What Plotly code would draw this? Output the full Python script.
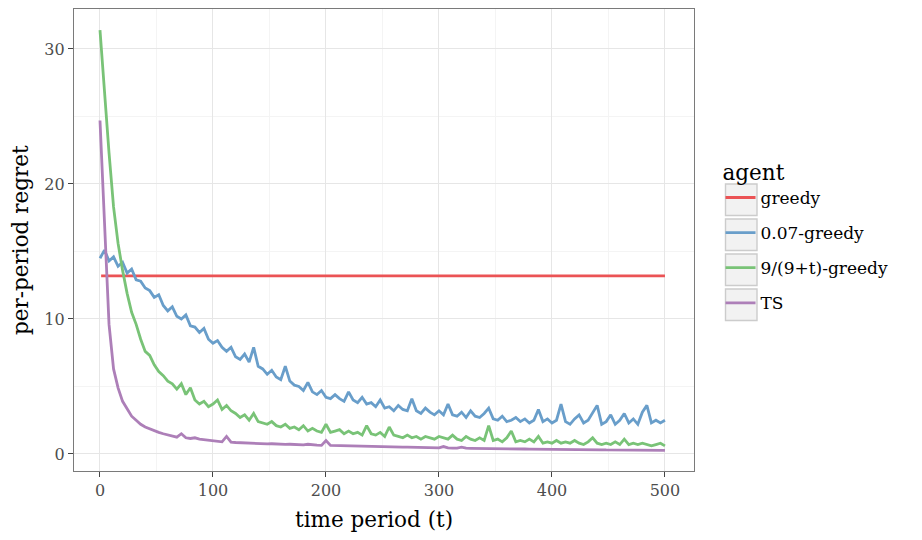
import plotly.graph_objects as go

# ---------------- data ----------------
t_steps = list(range(0, 501, 4))

greedy_t = [1, 500]
greedy = [13.2, 13.2]

eps_greedy = [
    14.5, 15.1, 14.3, 14.6, 13.9, 14.2, 13.4, 13.7, 12.9, 12.8,
    12.3, 12.1, 11.6, 11.8, 11.0, 10.6, 10.9, 10.2, 10.0, 10.3,
    9.5, 9.4, 9.0, 9.3, 8.5, 8.2, 8.4, 7.9, 7.6, 7.9,
    7.2, 7.0, 7.4, 6.8, 7.9, 6.5, 6.3, 5.9, 6.2, 5.7,
    5.5, 6.5, 5.4, 5.1, 5.0, 4.7, 5.3, 4.6, 4.4, 4.7,
    4.2, 4.1, 4.4, 4.1, 3.9, 4.6, 4.0, 3.8, 4.2, 3.7,
    3.8, 3.5, 4.0, 3.4, 3.5, 3.2, 3.6, 3.3, 3.2, 4.1,
    3.2, 3.0, 3.4, 3.1, 2.9, 3.2, 2.9, 3.7, 2.9, 2.8,
    3.1, 2.7, 3.2, 2.8, 2.7, 3.0, 3.4, 2.6, 2.5, 2.8,
    2.4, 2.5, 2.7, 2.4, 2.6, 2.3, 2.5, 3.3, 2.4, 2.6,
    2.3, 2.5, 3.7, 2.4, 2.2, 2.6, 2.9, 2.3, 2.5, 3.1,
    3.6, 2.2, 2.4, 2.9, 2.2, 2.5, 3.0, 2.3, 2.6, 2.2,
    3.1, 3.6, 2.3, 2.5, 2.3, 2.5,
]

anneal_greedy = [
    31.4, 26.5, 22.3, 18.3, 15.6, 13.6, 11.9, 10.5, 9.6, 8.5,
    7.6, 7.3, 6.6, 6.1, 5.8, 5.4, 5.2, 4.8, 5.2, 4.4,
    4.9, 4.0, 3.7, 3.9, 3.5, 3.7, 4.0, 3.3, 3.6, 3.2,
    3.0, 2.7, 2.9, 2.5, 3.0, 2.4, 2.3, 2.2, 2.4, 2.1,
    2.0, 2.2, 1.9, 2.0, 1.8, 2.1, 1.7, 1.9, 1.7, 1.6,
    2.2, 1.6, 1.7, 1.8, 1.5, 1.7, 1.5, 1.6, 1.4, 2.1,
    1.5, 1.4, 1.6, 1.3, 2.0, 1.4, 1.3, 1.2, 1.4, 1.2,
    1.3, 1.1, 1.3, 1.2, 1.1, 1.3, 1.2, 1.1, 1.4, 1.1,
    1.0, 1.3, 1.1, 1.0, 1.2, 1.0, 2.1, 1.0, 1.1, 0.9,
    1.2, 1.7, 0.9, 1.0, 0.9, 1.1, 0.9, 1.3, 0.8, 0.9,
    0.8, 1.0, 0.8, 0.9, 0.8, 1.0, 0.8, 0.7, 0.9, 1.2,
    0.8, 0.7, 0.8, 0.7, 0.9, 0.7, 1.1, 0.7, 0.8, 0.7,
    0.8, 0.7, 0.6, 0.7, 0.8, 0.6,
]

ts = [
    24.7, 16.8, 9.6, 6.3, 4.9, 3.9, 3.3, 2.8, 2.5, 2.2,
    2.0, 1.85, 1.7, 1.6, 1.5, 1.4, 1.3, 1.25, 1.5, 1.2,
    1.15, 1.2, 1.1, 1.05, 1.0, 0.97, 0.93, 0.9, 1.3, 0.88,
    0.85, 0.83, 0.82, 0.8, 0.82, 0.78, 0.76, 0.75, 0.76, 0.73,
    0.72, 0.71, 0.72, 0.7, 0.69, 0.68, 0.72, 0.66, 0.65, 0.64,
    1.0, 0.63, 0.62, 0.62, 0.61, 0.6, 0.59, 0.58, 0.58, 0.57,
    0.56, 0.55, 0.55, 0.54, 0.53, 0.53, 0.52, 0.51, 0.51, 0.5,
    0.49, 0.48, 0.49, 0.47, 0.46, 0.46, 0.55, 0.45, 0.44, 0.44,
    0.5, 0.43, 0.42, 0.42, 0.41, 0.41, 0.4, 0.4, 0.39, 0.39,
    0.38, 0.38, 0.37, 0.37, 0.37, 0.36, 0.36, 0.35, 0.35, 0.35,
    0.34, 0.34, 0.34, 0.33, 0.33, 0.33, 0.32, 0.32, 0.32, 0.31,
    0.31, 0.31, 0.3, 0.3, 0.3, 0.3, 0.29, 0.29, 0.29, 0.29,
    0.28, 0.28, 0.28, 0.28, 0.27, 0.27,
]

agents = ["greedy", "0.07-greedy", "9/(9+t)-greedy", "TS"]
colors = ["#eb5355", "#699eca", "#79c377", "#ad7fb8"]

x_ticks = [0, 100, 200, 300, 400, 500]
y_ticks = [0, 10, 20, 30]

# ---------------- figure ----------------
FONT = "DejaVu Serif"
OFF = 8  # page body margin
W, H = 922 - OFF, 540 - OFF
# target panel in window pixels: x 74..694, y 9..471
ML = 74 - OFF
MT = 9 - OFF
MR = 922 - 694
MB = 540 - 471
PW, PH = W - ML - MR, H - MT - MB

series = [(greedy_t, greedy), (t_steps, eps_greedy), (t_steps, anneal_greedy), (t_steps, ts)]

fig = go.Figure()
for name, col, (xs, ys) in zip(agents, colors, series):
    fig.add_trace(go.Scatter(
        x=xs, y=ys, mode="lines", name=name, legendgroup=name,
        line=dict(color=col, width=2.8),
    ))

def px_x(p):
    # window pixel -> paper coordinate
    return (p - OFF - ML) / PW

def px_y(p):
    return (H - MB - (p - OFF)) / PH

# legend key boxes (ggplot style)
shapes = []
for k in range(4):
    top = 184 + 35 * k
    shapes.append(dict(
        type="rect", xref="paper", yref="paper",
        x0=px_x(725.5), x1=px_x(757), y0=px_y(top + 31.5), y1=px_y(top),
        fillcolor="#f2f2f2", line=dict(color="#cccccc", width=1.4), layer="below",
    ))

annotations = [
    dict(text="time period (t)", xref="paper", yref="paper",
         x=px_x(374), y=px_y(519), xanchor="center", yanchor="middle",
         showarrow=False, font=dict(family=FONT, size=21.5, color="black")),
    dict(text="per-period regret", xref="paper", yref="paper",
         x=px_x(20), y=px_y(240), xanchor="center", yanchor="middle", textangle=-90,
         showarrow=False, font=dict(family=FONT, size=21.5, color="black")),
]

axis_common = dict(
    showline=True, linecolor="#7a7a7a", linewidth=1.2, mirror=True,
    ticks="outside", ticklen=5, tickcolor="#444444", tickwidth=1.2,
    showgrid=True, gridcolor="#e6e6e6", gridwidth=1.1,
    zeroline=False,
    tickfont=dict(family=FONT, size=16, color="#4d4d4d"),
)

fig.update_layout(
    width=W, height=H,
    margin=dict(l=ML, r=MR, t=MT, b=MB, autoexpand=False),
    paper_bgcolor="white", plot_bgcolor="white",
    font=dict(family=FONT, color="black"),
    xaxis=dict(range=[-23, 525.7], tickvals=x_ticks, **axis_common,
               minor=dict(tickvals=[50, 150, 250, 350, 450], showgrid=True,
                          gridcolor="#f4f4f4", gridwidth=1, ticks="")),
    yaxis=dict(range=[-1.26, 32.96], tickvals=y_ticks, **axis_common,
               minor=dict(tickvals=[5, 15, 25], showgrid=True,
                          gridcolor="#f4f4f4", gridwidth=1, ticks="")),
    showlegend=True,
    legend=dict(
        x=px_x(720.5), xanchor="left", y=px_y(152), yanchor="top",
        bgcolor="rgba(0,0,0,0)", borderwidth=0,
        title=dict(text="agent", font=dict(family=FONT, size=21.5, color="black")),
        font=dict(family=FONT, size=17, color="black"),
        tracegroupgap=10, itemwidth=30,
    ),
    shapes=shapes,
    annotations=annotations,
)

fig.write_html("out.html")
